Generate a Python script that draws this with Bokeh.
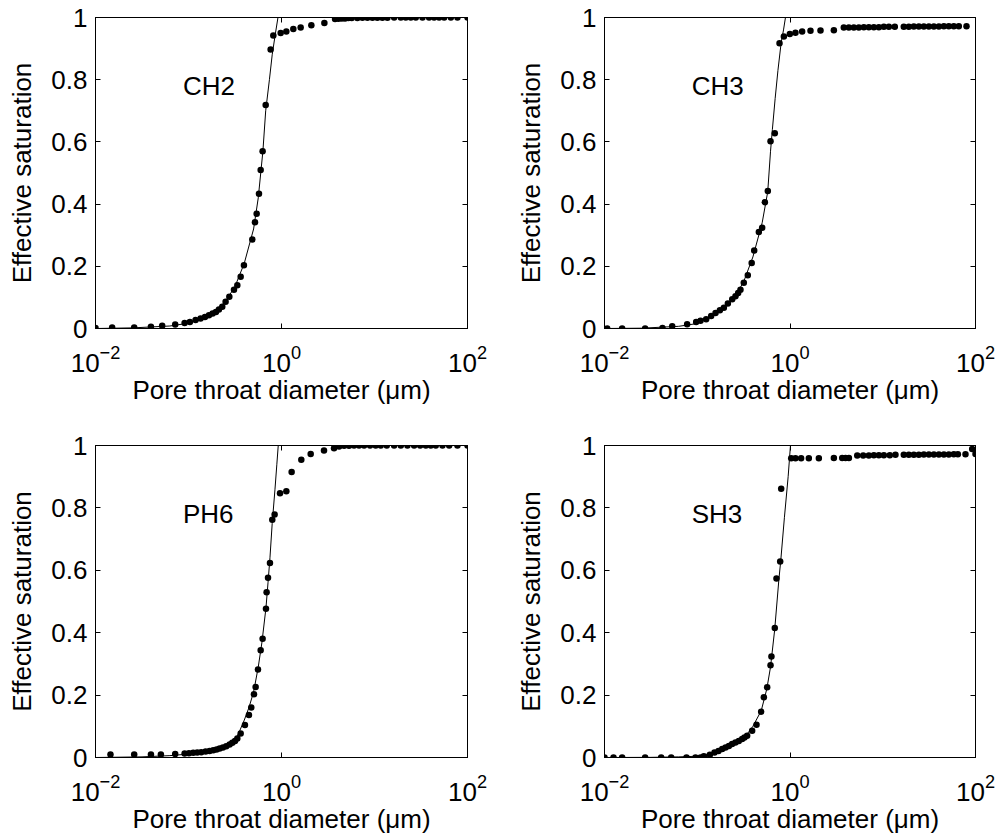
import numpy as np
from bokeh.plotting import figure
from bokeh.models import Range1d, FixedTicker, LinearAxis, LogAxis, CustomJSTickFormatter, LogTickFormatter, Label
from bokeh.layouts import column, row
from bokeh.embed import file_html
from bokeh.resources import INLINE

FONT = "Liberation Sans"
FS = "26px"

# ---------------- data (log10 of pore throat diameter in um, effective saturation) -------------
samples = ["CH2", "CH3", "PH6", "SH3"]

ch2_logd = [-2.0, -1.821, -1.584, -1.404, -1.283, -1.143, -1.042, -0.985, -0.924, -0.870, -0.823, -0.780,
            -0.741, -0.705, -0.673, -0.637, -0.601, -0.561, -0.511, -0.475, -0.439, -0.404, -0.314, -0.285,
            -0.267, -0.242, -0.224, -0.203, -0.170, -0.117, -0.088, -0.009, 0.052, 0.127, 0.206, 0.321,
            0.461, 0.576, 0.612, 0.648, 0.683, 0.719, 0.755, 0.816, 0.870, 0.924, 0.978, 1.031, 1.085,
            1.139, 1.211, 1.283, 1.336, 1.390, 1.444, 1.516, 1.587, 1.641, 1.695, 1.749, 1.821, 1.892, 2.0]
ch2_sat = [0.002, 0.003, 0.003, 0.006, 0.009, 0.013, 0.018, 0.021, 0.027, 0.032, 0.037, 0.043,
           0.048, 0.053, 0.061, 0.070, 0.086, 0.102, 0.125, 0.139, 0.166, 0.203, 0.286, 0.342,
           0.369, 0.433, 0.510, 0.570, 0.719, 0.897, 0.942, 0.950, 0.955, 0.963, 0.968, 0.975,
           0.982, 0.995, 0.996, 0.997, 0.997, 0.998, 0.998, 0.998, 0.999, 0.999, 0.999, 0.999, 0.999,
           0.999, 1.0, 1.0, 1.0, 1.0, 1.0, 1.0, 1.0, 1.0, 1.0, 1.0, 1.0, 1.0, 1.0]
ch2_fit_logd = [-2.0, -1.6, -1.2, -1.0, -0.8, -0.7, -0.6, -0.5, -0.4, -0.3, -0.25, -0.2, -0.17, -0.13,
                -0.1, -0.07, -0.038]
ch2_fit_sat = [0.0, 0.002, 0.008, 0.017, 0.038, 0.058, 0.088, 0.135, 0.21, 0.32, 0.42, 0.57, 0.70, 0.80,
               0.88, 0.94, 1.0]

ch3_logd = [-1.971, -1.810, -1.562, -1.375, -1.270, -1.109, -1.012, -0.965, -0.904, -0.850, -0.803, -0.756,
            -0.713, -0.670, -0.623, -0.588, -0.559, -0.534, -0.498, -0.455, -0.413, -0.386, -0.336, -0.300,
            -0.271, -0.239, -0.210, -0.164, -0.113, -0.066, -0.002, 0.059, 0.131, 0.221, 0.329, 0.473,
            0.580, 0.634, 0.688, 0.742, 0.796, 0.850, 0.904, 0.958, 1.012, 1.066, 1.130, 1.227, 1.281,
            1.335, 1.389, 1.443, 1.497, 1.551, 1.605, 1.659, 1.712, 1.766, 1.820, 1.903]
ch3_sat = [0.0, 0.0, 0.0, 0.002, 0.007, 0.014, 0.021, 0.025, 0.030, 0.040, 0.050, 0.059,
           0.067, 0.080, 0.094, 0.104, 0.114, 0.125, 0.147, 0.171, 0.211, 0.251, 0.310, 0.324,
           0.406, 0.442, 0.602, 0.628, 0.917, 0.939, 0.947, 0.951, 0.955, 0.957, 0.958, 0.959,
           0.968, 0.968, 0.968, 0.968, 0.969, 0.969, 0.969, 0.969, 0.970, 0.970, 0.970, 0.970, 0.970,
           0.971, 0.971, 0.971, 0.971, 0.971, 0.971, 0.972, 0.972, 0.972, 0.972, 0.972]
ch3_fit_logd = [-2.0, -1.6, -1.2, -1.0, -0.8, -0.7, -0.6, -0.5, -0.4, -0.3, -0.24, -0.21, -0.19, -0.16,
                -0.13, -0.095, -0.07, -0.049]
ch3_fit_sat = [0.0, 0.001, 0.007, 0.016, 0.045, 0.07, 0.10, 0.15, 0.23, 0.34, 0.44, 0.57, 0.64, 0.74,
               0.83, 0.92, 0.96, 1.0]

ph6_logd = [-1.839, -1.584, -1.404, -1.297, -1.143, -1.042, -0.995, -0.949, -0.906, -0.863, -0.816, -0.773,
            -0.734, -0.698, -0.665, -0.630, -0.594, -0.558, -0.529, -0.500, -0.475, -0.439, -0.393, -0.350,
            -0.325, -0.296, -0.278, -0.253, -0.224, -0.203, -0.167, -0.160, -0.145, -0.124, -0.099, -0.074,
            -0.016, 0.052, 0.109, 0.213, 0.314, 0.457, 0.565, 0.619, 0.673, 0.726, 0.780, 0.834, 0.888,
            0.952, 1.013, 1.067, 1.132, 1.211, 1.283, 1.354, 1.426, 1.491, 1.552, 1.605, 1.659, 1.731,
            1.803, 1.892, 2.0]
ph6_sat = [0.010, 0.010, 0.010, 0.010, 0.011, 0.013, 0.014, 0.015, 0.016, 0.017, 0.019, 0.021,
           0.023, 0.026, 0.029, 0.032, 0.036, 0.042, 0.047, 0.053, 0.061, 0.077, 0.104, 0.136,
           0.160, 0.203, 0.226, 0.282, 0.344, 0.381, 0.477, 0.530, 0.576, 0.623, 0.762, 0.779,
           0.847, 0.853, 0.915, 0.954, 0.973, 0.984, 0.991, 0.997, 0.999, 0.999, 1.0, 1.0, 1.0,
           1.0, 1.0, 1.0, 1.0, 1.0, 1.0, 1.0, 1.0, 1.0, 1.0, 1.0, 1.0, 1.0,
           1.0, 1.0, 1.0]
ph6_fit_logd = [-2.0, -1.5, -1.2, -1.0, -0.8, -0.7, -0.6, -0.5, -0.45, -0.4, -0.35, -0.3, -0.25, -0.21,
                -0.167, -0.145, -0.124, -0.1, -0.07, -0.05, -0.035]
ph6_fit_sat = [0.0, 0.002, 0.006, 0.011, 0.019, 0.026, 0.037, 0.055, 0.085, 0.12, 0.16, 0.21, 0.29, 0.37,
               0.48, 0.56, 0.64, 0.75, 0.86, 0.94, 1.0]

sh3_logd = [-2.0, -1.903, -1.810, -1.562, -1.389, -1.281, -1.116, -1.019, -0.965, -0.929, -0.864, -0.814,
            -0.771, -0.731, -0.695, -0.659, -0.624, -0.588, -0.552, -0.516, -0.491, -0.462, -0.408, -0.361,
            -0.311, -0.282, -0.246, -0.210, -0.200, -0.164, -0.146, -0.106, -0.095, 0.013, 0.059, 0.120,
            0.203, 0.311, 0.473, 0.563, 0.599, 0.635, 0.725, 0.789, 0.850, 0.904, 0.958, 1.012, 1.076,
            1.137, 1.227, 1.281, 1.335, 1.389, 1.443, 1.497, 1.551, 1.605, 1.659, 1.712, 1.766, 1.810,
            1.892, 1.964, 2.0]
sh3_sat = [0.0, 0.0, 0.0, 0.0, 0.0, 0.0, 0.0, 0.0, 0.0, 0.004, 0.009, 0.016,
           0.021, 0.027, 0.032, 0.037, 0.043, 0.048, 0.053, 0.059, 0.064, 0.070, 0.086, 0.105,
           0.147, 0.193, 0.225, 0.296, 0.324, 0.415, 0.574, 0.628, 0.861, 0.959, 0.959, 0.959,
           0.959, 0.959, 0.960, 0.960, 0.960, 0.960, 0.968, 0.968, 0.968, 0.969, 0.969, 0.969, 0.969,
           0.970, 0.970, 0.970, 0.970, 0.970, 0.971, 0.971, 0.971, 0.971, 0.971, 0.971, 0.972, 0.972,
           0.972, 0.989, 0.973]
sh3_fit_logd = [-2.0, -1.5, -1.2, -1.0, -0.8, -0.7, -0.6, -0.5, -0.4, -0.31, -0.25, -0.21, -0.165, -0.12,
                -0.1, -0.06, -0.02, 0.005]
sh3_fit_sat = [0.0, 0.0005, 0.002, 0.004, 0.016, 0.027, 0.04, 0.06, 0.10, 0.15, 0.22, 0.29, 0.41, 0.57,
               0.63, 0.77, 0.90, 1.0]

x_tick_values = [0.01, 1, 100]
y_tick_values = [0, 0.2, 0.4, 0.6, 0.8, 1]
x_label = "Pore throat diameter (\u03bcm)"
y_label = "Effective saturation"

YFMT = "return String(Math.round(tick*10)/10);"


def mirror_axis(cls, ticks):
    return cls(ticker=FixedTicker(ticks=ticks), major_label_text_font_size="2px",
               major_label_text_color=None, major_tick_in=5, major_tick_out=0,
               minor_tick_line_color=None, axis_line_color="black", major_label_standoff=0)


def panel(name, logd, sat, fit_logd, fit_sat, width, height, left, right, top, bottom):
    p = figure(width=width, height=height, x_axis_type="log",
               x_range=Range1d(0.01, 100), y_range=Range1d(0, 1),
               output_backend="svg", toolbar_location=None,
               min_border_left=left, min_border_right=right,
               min_border_top=top, min_border_bottom=bottom,
               background_fill_color="white", border_fill_color="white")
    p.xgrid.grid_line_color = None
    p.ygrid.grid_line_color = None
    p.outline_line_color = "black"
    p.outline_line_width = 1
    p.outline_line_alpha = 1

    xa = p.xaxis[0]
    xa.ticker = FixedTicker(ticks=x_tick_values)
    xa.formatter = LogTickFormatter()
    xa.axis_label = x_label
    ya = p.yaxis[0]
    ya.ticker = FixedTicker(ticks=y_tick_values)
    ya.formatter = CustomJSTickFormatter(code=YFMT)
    ya.axis_label = y_label
    for ax in (xa, ya):
        ax.major_label_text_font = FONT
        ax.major_label_text_font_size = FS
        ax.major_label_text_color = "black"
        ax.axis_label_text_font = FONT
        ax.axis_label_text_font_size = FS
        ax.axis_label_text_font_style = "normal"
        ax.axis_label_text_color = "black"
        ax.axis_line_color = "black"
        ax.major_tick_line_color = "black"
        ax.major_tick_in = 5
        ax.major_tick_out = 0
        ax.minor_tick_line_color = None
    ya.major_label_standoff = 8
    ya.axis_label_standoff = 11
    xa.major_label_standoff = 16
    xa.axis_label_standoff = 0

    p.add_layout(mirror_axis(LinearAxis, y_tick_values), "right")
    p.add_layout(mirror_axis(LogAxis, x_tick_values), "above")

    fx = np.power(10.0, np.array(fit_logd))
    p.line(fx, fit_sat, line_color="black", line_width=1)
    px = np.power(10.0, np.array(logd))
    p.scatter(px, sat, size=6.5, color="black", line_width=0)

    p.add_layout(Label(x=0.087, y=0.78, text=name, text_font=FONT, text_font_size=FS,
                       text_baseline="alphabetic", text_align="left", text_color="black"))
    return p


p1 = panel(samples[0], ch2_logd, ch2_sat, ch2_fit_logd, ch2_fit_sat, 490, 420, 95, 23, 17, 92)
p2 = panel(samples[1], ch3_logd, ch3_sat, ch3_fit_logd, ch3_fit_sat, 507, 420, 114, 22, 17, 92)
p3 = panel(samples[2], ph6_logd, ph6_sat, ph6_fit_logd, ph6_fit_sat, 490, 419, 95, 23, 25, 82)
p4 = panel(samples[3], sh3_logd, sh3_sat, sh3_fit_logd, sh3_fit_sat, 507, 419, 114, 22, 25, 82)

layout = column(row(p1, p2), row(p3, p4))
open("out.html", "w", encoding="utf-8").write(file_html(layout, INLINE, title="Effective saturation"))
